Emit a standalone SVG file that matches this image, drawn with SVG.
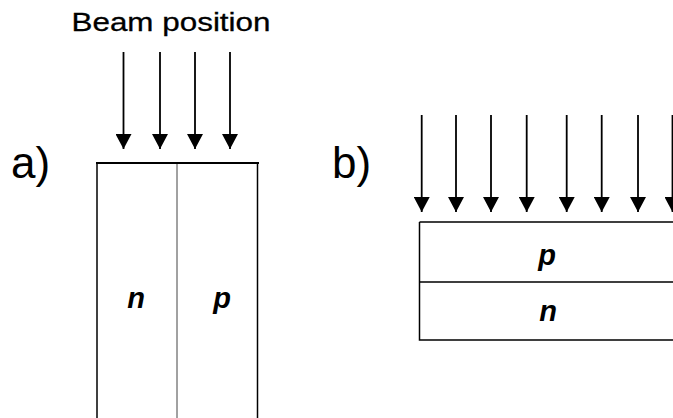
<svg xmlns="http://www.w3.org/2000/svg" width="673" height="418" viewBox="0 0 673 418">
<style>
.lbl{font-family:"Liberation Sans",Arial,sans-serif;fill:#000}
.big{font-size:44px}
.np{font-family:"Liberation Sans",Arial,sans-serif;font-size:29px;font-weight:bold;font-style:italic;text-anchor:middle;fill:#000}
.arr{stroke:#000;stroke-width:1.8;fill:none}
.edge{stroke:#000;stroke-width:1.5;fill:none}
.thin{stroke:#444;stroke-width:1;fill:none}
</style>
<defs>
<marker id="ah" viewBox="0 0 15 16" markerWidth="15" markerHeight="16" refX="15" refY="8" orient="auto" markerUnits="userSpaceOnUse">
<path d="M0,0 L15,8 L0,16 Z" fill="#000"/>
</marker>
</defs>
<rect width="673" height="418" fill="#fff"/>
<text class="lbl" x="71.5" y="31" font-size="26.5" stroke="#000" stroke-width="0.3" textLength="199" lengthAdjust="spacingAndGlyphs">Beam position</text>
<text class="lbl big" x="11" y="178">a)</text>
<text class="lbl big" x="332" y="178">b)</text>
<g id="node-a-n">
<path class="edge" d="M97,163 L97,418"/>
<path class="thin" d="M177,163 L177,418"/>
<text class="np" x="136" y="307.5">n</text>
</g>
<g id="node-a-p">
<path class="edge" d="M257.5,163 L257.5,418"/>
<text class="np" x="222" y="307.5">p</text>
</g>
<path d="M96,163 L259,163" stroke="#000" stroke-width="2" fill="none"/>
<g id="node-b-p">
<path class="edge" d="M419.5,222 L673,222 M419.5,222 L419.5,282"/>
<text class="np" x="547" y="264.5">p</text>
</g>
<g id="node-b-n">
<path class="edge" d="M419.5,282 L673,282 M419.5,282 L419.5,340 L673,340"/>
<text class="np" x="548" y="321">n</text>
</g>
<g id="connectors">
<line class="arr" x1="123.5" y1="52" x2="123.5" y2="149" marker-end="url(#ah)"/>
<line class="arr" x1="160" y1="52" x2="160" y2="149" marker-end="url(#ah)"/>
<line class="arr" x1="195" y1="52" x2="195" y2="149" marker-end="url(#ah)"/>
<line class="arr" x1="230" y1="52" x2="230" y2="149" marker-end="url(#ah)"/>
<line class="arr" x1="421.7" y1="115" x2="421.7" y2="212" marker-end="url(#ah)"/>
<line class="arr" x1="456" y1="115" x2="456" y2="212" marker-end="url(#ah)"/>
<line class="arr" x1="491" y1="115" x2="491" y2="212" marker-end="url(#ah)"/>
<line class="arr" x1="526.7" y1="115" x2="526.7" y2="212" marker-end="url(#ah)"/>
<line class="arr" x1="566.7" y1="115" x2="566.7" y2="212" marker-end="url(#ah)"/>
<line class="arr" x1="601.7" y1="115" x2="601.7" y2="212" marker-end="url(#ah)"/>
<line class="arr" x1="638" y1="115" x2="638" y2="212" marker-end="url(#ah)"/>
<line class="arr" x1="672.5" y1="115" x2="672.5" y2="212" marker-end="url(#ah)"/>
</g>
</svg>
